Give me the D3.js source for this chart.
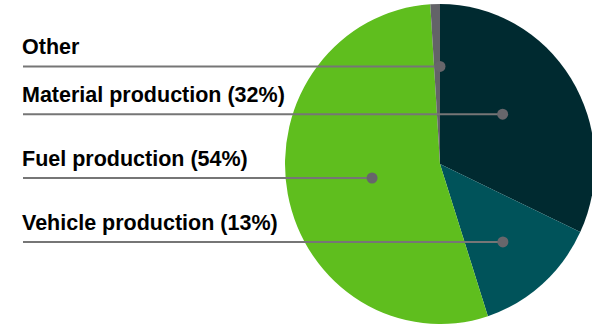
<!DOCTYPE html>
<html><head><meta charset="utf-8">
<script src="https://cdn.jsdelivr.net/npm/d3@7"></script>
<style>html,body{margin:0;padding:0;background:#fff;}svg{display:block;}</style>
</head><body>
<script>
const categories = ["Material production", "Vehicle production", "Fuel production", "Other"];
const values = [32, 13, 54, 1];
const labels = ["Material production (32%)", "Vehicle production (13%)", "Fuel production (54%)", "Other"];
const colors = ["#002a30", "#00535a", "#5fbe1e", "#636368"];

// layout constants for the leader dots (angle in degrees from top, radius fraction)
const dotLayout = [{a: 52.4, r: 0.51}, {a: 140.2, r: 0.634}, {a: 258.7, r: 0.447}, {a: 360, r: 0.61}];

const W = 592, H = 324;
const cx = 440, cy = 164, rx = 155, ry = 160;

const svg = d3.select("body").append("svg").attr("width", W).attr("height", H);

const pie = d3.pie().sort(null).value(d => d)(values);
const arc = d3.arc().innerRadius(0).outerRadius(rx);

svg.append("g")
  .attr("transform", `translate(${cx},${cy}) scale(1,${ry / rx})`)
  .selectAll("path").data(pie).join("path")
  .attr("d", arc)
  .attr("fill", (d, i) => colors[i]);

const pts = dotLayout.map(p => {
  const t = p.a * Math.PI / 180;
  return [cx + rx * p.r * Math.sin(t), cy - ry * p.r * Math.cos(t)];
});

const g = svg.append("g");
categories.forEach((c, i) => {
  const [x, y] = pts[i];
  g.append("line").attr("x1", 23).attr("x2", x).attr("y1", y).attr("y2", y)
    .attr("stroke", "#767676").attr("stroke-width", 2);
  g.append("circle").attr("cx", x).attr("cy", y).attr("r", 5.5).attr("fill", "#67666b");
  g.append("text").attr("x", 22).attr("y", y - 12)
    .attr("font-family", "Liberation Sans, Arial, sans-serif")
    .attr("font-weight", "bold").attr("font-size", 21.5)
    .attr("fill", "#000").text(labels[i]);
});
</script>
</body></html>
